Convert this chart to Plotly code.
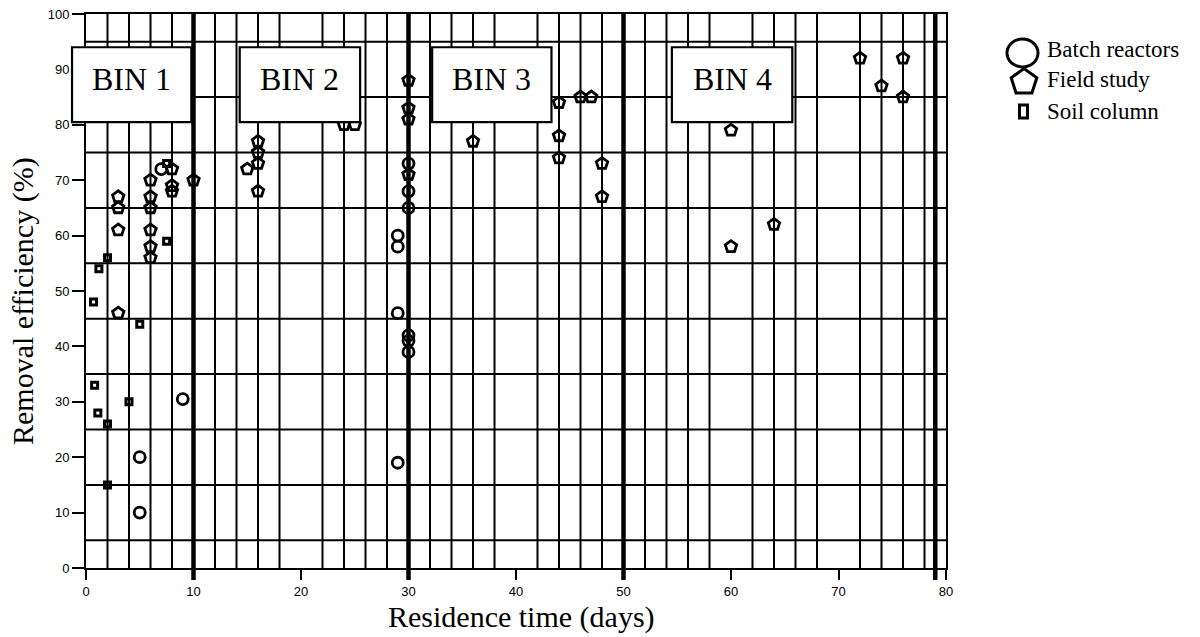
import math
import plotly.graph_objects as go

# ---------------- data ----------------
batch_x = [7, 9, 5, 5, 29, 29, 29, 30, 30, 30, 29, 30, 30, 30]
batch_y = [72, 30.5, 20, 10, 60, 58, 46, 42, 41, 39, 19, 73, 68, 65]

field_x = [3, 3, 3, 3, 6, 6, 6, 6, 6, 6, 8, 8, 8, 10,
           15, 16, 16, 16, 16, 24, 25,
           30, 30, 30, 30, 36, 44, 44, 44, 46, 47, 48, 48,
           60, 60, 64, 72, 74, 76, 76]
field_y = [67, 65, 61, 46, 70, 67, 65, 61, 58, 56, 72, 69, 68, 70,
           72, 77, 75, 73, 68, 80, 80,
           88, 83, 81, 71, 77, 84, 78, 74, 85, 85, 73, 67,
           79, 58, 62, 92, 87, 92, 85]

soil_x = [0.7, 1.2, 2, 7.5, 7.5, 5, 0.8, 1.1, 2, 4, 2]
soil_y = [48, 54, 56, 73, 59, 44, 33, 28, 26, 30, 15]

series_names = ["Batch reactors", "Field study", "Soil column"]
bin_labels = ["BIN 1", "BIN 2", "BIN 3", "BIN 4"]
bin_bounds = [10, 30, 50, 79]
x_ticks = [0, 10, 20, 30, 40, 50, 60, 70, 80]
y_ticks = [0, 10, 20, 30, 40, 50, 60, 70, 80, 90, 100]

# ---------------- layout constants ----------------
W, H = 1200, 637
ML, MR, MT, MB = 86, 254, 14, 69
PW, PH = W - ML - MR, H - MT - MB
XMAX, YMAX = 80, 100
SERIF = "Liberation Serif, Times New Roman, serif"
SANS = "Liberation Sans, Arial, sans-serif"

def px_x(p):
    return (p - ML) / PW

def px_y(p):
    return (H - MB - p) / PH

bin_box_x0 = [-1.3, 14.3, 32.2, 54.5]
bin_box_x1 = [9.8, 25.5, 43.3, 65.7]
bin_box_y0, bin_box_y1 = 80.5, 94.0

fig = go.Figure()

common = dict(mode="markers", showlegend=False, hoverinfo="x+y")
fig.add_trace(go.Scatter(x=batch_x, y=batch_y, name=series_names[0],
                         marker=dict(symbol="circle-open", size=11, color="black",
                                     line=dict(width=2.8, color="black")), **common))
fig.add_trace(go.Scatter(x=field_x, y=field_y, name=series_names[1],
                         marker=dict(symbol="pentagon-open", size=12, color="black",
                                     line=dict(width=2.8, color="black")), **common))
fig.add_trace(go.Scatter(x=soil_x, y=soil_y, name=series_names[2],
                         marker=dict(symbol="square-open", size=6, color="black",
                                     line=dict(width=3, color="black")), **common))

shapes = []
GRID = dict(color="black", width=2)
# vertical grid every 2 days except multiples of 10
for v in range(2, XMAX, 2):
    if v % 10 == 0:
        continue
    shapes.append(dict(type="line", xref="paper", yref="paper",
                       x0=v / XMAX, x1=v / XMAX, y0=0, y1=1, line=GRID, layer="below"))
# horizontal grid at odd multiples of 5
for v in range(5, YMAX, 10):
    shapes.append(dict(type="line", xref="paper", yref="paper",
                       x0=0, x1=1, y0=v / YMAX, y1=v / YMAX, line=GRID, layer="below"))
# thick bin boundaries
for b in bin_bounds:
    shapes.append(dict(type="line", xref="paper", yref="paper",
                       x0=b / XMAX, x1=b / XMAX, y0=px_y(H - MB + 12), y1=1,
                       line=dict(color="black", width=4.5), layer="below"))
# bin boxes
for lab, a, b in zip(bin_labels, bin_box_x0, bin_box_x1):
    shapes.append(dict(type="rect", xref="paper", yref="paper",
                       x0=a / XMAX, x1=b / XMAX, y0=bin_box_y0 / YMAX, y1=bin_box_y1 / YMAX,
                       fillcolor="white", line=dict(color="black", width=2.2), layer="above"))

# custom legend symbols
shapes.append(dict(type="circle", xref="paper", yref="paper",
                   x0=px_x(1007), x1=px_x(1038), y0=px_y(67), y1=px_y(39),
                   line=dict(color="black", width=3)))
cx, cy, r = 1024, 82, 13.5
pts = []
for k in range(5):
    ang = math.pi / 2 + k * 2 * math.pi / 5
    pts.append((cx + r * math.cos(ang), cy - r * math.sin(ang)))
path = "M " + " L ".join(f"{px_x(a):.5f},{px_y(b):.5f}" for a, b in pts) + " Z"
shapes.append(dict(type="path", xref="paper", yref="paper", path=path,
                   line=dict(color="black", width=3)))
shapes.append(dict(type="rect", xref="paper", yref="paper",
                   x0=px_x(1019.5), x1=px_x(1027.5), y0=px_y(118), y1=px_y(105),
                   line=dict(color="black", width=3)))

annotations = []
for lab, a, b in zip(bin_labels, bin_box_x0, bin_box_x1):
    annotations.append(dict(x=(a + b) / 2, y=88.2, xref="x", yref="y", text=lab,
                            showarrow=False, font=dict(family=SERIF, size=32, color="black"),
                            xanchor="center", yanchor="middle"))
for name, yy in zip(series_names, [49, 79, 111]):
    annotations.append(dict(x=px_x(1045), y=px_y(yy), xref="paper", yref="paper", text=name,
                            showarrow=False, font=dict(family=SERIF, size=23, color="black"),
                            xanchor="left", yanchor="middle"))
annotations.append(dict(x=px_x(521), y=px_y(617), xref="paper", yref="paper",
                        text="Residence time (days)", showarrow=False,
                        font=dict(family=SERIF, size=30, color="black"),
                        xanchor="center", yanchor="middle"))
annotations.append(dict(x=px_x(23), y=px_y(301), xref="paper", yref="paper",
                        text="Removal efficiency (%)", showarrow=False, textangle=-90,
                        font=dict(family=SERIF, size=30, color="black"),
                        xanchor="center", yanchor="middle"))

fig.update_layout(
    width=W, height=H,
    margin=dict(l=ML, r=MR, t=MT, b=MB, autoexpand=False),
    paper_bgcolor="white", plot_bgcolor="white",
    shapes=shapes, annotations=annotations, showlegend=False,
    xaxis=dict(range=[0, XMAX], tickvals=x_ticks, ticktext=[str(v) for v in x_ticks],
               ticks="outside", ticklen=10, tickwidth=2, tickcolor="black",
               showline=True, linecolor="black", linewidth=2, mirror=True,
               showgrid=False, zeroline=False,
               tickfont=dict(family=SANS, size=13, color="black")),
    yaxis=dict(range=[0, YMAX], tickvals=y_ticks, ticktext=[str(v) for v in y_ticks],
               ticks="outside", ticklen=12, tickwidth=2, tickcolor="black",
               showline=True, linecolor="black", linewidth=2, mirror=True,
               showgrid=False, zeroline=False,
               tickfont=dict(family=SANS, size=13, color="black")),
)

fig.write_html("out.html")
